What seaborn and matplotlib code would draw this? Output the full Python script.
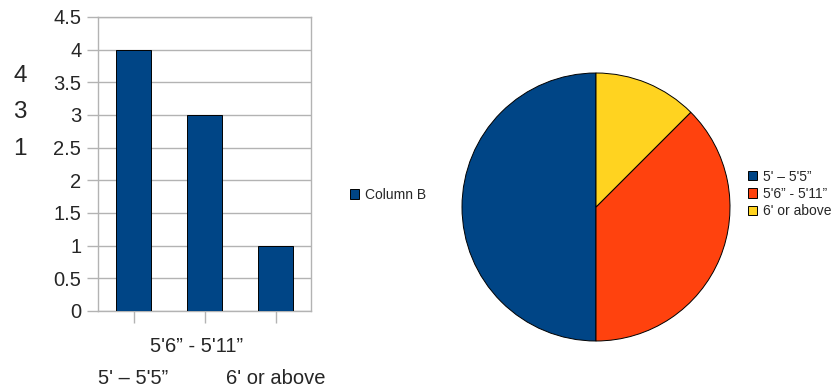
import matplotlib
matplotlib.use("Agg")
import matplotlib.pyplot as plt
from matplotlib.patches import Patch
from matplotlib.transforms import ScaledTranslation
import seaborn as sns
import pandas as pd

categories = ["5' – 5'5\u201d", "5'6\u201d - 5'11\u201d", "6' or above"]
values = [4, 3, 1]
side_labels = ["4", "3", "1"]
series_name = "Column B"
colors = ["#004586", "#ff420e", "#ffd320"]
yticks = [0, 0.5, 1, 1.5, 2, 2.5, 3, 3.5, 4, 4.5]
ytick_labels = ["0", "0.5", "1", "1.5", "2", "2.5", "3", "3.5", "4", "4.5"]

sns.set_style("white")
plt.rcParams["font.family"] = ["Liberation Sans", "DejaVu Sans"]

W, H = 838, 388
fig = plt.figure(figsize=(W / 100, H / 100), dpi=100)

def px_axes(x0, y0, x1, y1):
    return fig.add_axes([x0 / W, 1 - y1 / H, (x1 - x0) / W, (y1 - y0) / H])

grid_c = "#b3b3b3"

# ---- bar chart ----
ax = px_axes(98, 17, 311, 311)
df = pd.DataFrame({"cat": categories, "val": values})
sns.barplot(data=df, x="cat", y="val", color=colors[0], saturation=1, width=0.5,
            edgecolor="black", linewidth=0.7, ax=ax, zorder=3)
ax.set_ylim(0, 4.5)
ax.set_xlim(-0.5, 2.5)
ax.set_yticks(yticks)
ax.set_yticklabels(ytick_labels)
ax.set_xlabel("")
ax.set_ylabel("")
ax.yaxis.grid(True, color=grid_c, linewidth=1)
ax.set_axisbelow(True)
for s in ax.spines.values():
    s.set_color(grid_c)
    s.set_linewidth(1)
ax.tick_params(axis="y", direction="out", length=8, width=1, color=grid_c,
               labelsize=14.5, pad=4, left=True)
ax.tick_params(axis="x", direction="out", length=8.5, width=1, color=grid_c,
               labelsize=14.5, bottom=True)
ticks = ax.xaxis.get_major_ticks()
for i, t in enumerate(ticks):
    t.set_pad(10 if i == 1 else 33)
    if i == 1:
        t.label1.set_transform(t.label1.get_transform()
                               + ScaledTranslation(-8 / 100, 0, fig.dpi_scale_trans))

for lbl, yy in zip(side_labels, [76, 112, 149]):
    fig.text(20 / W, 1 - yy / H, lbl, fontsize=17.5, ha="center", va="center")

fig.legend(handles=[Patch(facecolor=colors[0], edgecolor="black", linewidth=0.7)],
           labels=[series_name], loc="center left",
           bbox_to_anchor=(350 / W, 1 - 195 / H), frameon=False, fontsize=10,
           handlelength=0.65, handleheight=0.65, handletextpad=0.45, borderpad=0,
           borderaxespad=0)

# ---- pie chart ----
pax = px_axes(462, 73, 730, 341)
pax.pie(values, colors=colors, startangle=90, counterclock=True,
        wedgeprops=dict(edgecolor="black", linewidth=0.7))
pax.set_xlim(-1, 1)
pax.set_ylim(-1, 1)
pax.set_aspect("equal")
pax.axis("off")

fig.legend(handles=[Patch(facecolor=c, edgecolor="black", linewidth=0.7) for c in colors],
           labels=categories, loc="center left",
           bbox_to_anchor=(748 / W, 1 - 194 / H), frameon=False, fontsize=10,
           handlelength=0.65, handleheight=0.65, handletextpad=0.45, borderpad=0,
           borderaxespad=0, labelspacing=0.25)

fig.savefig("out.png", dpi=100)
